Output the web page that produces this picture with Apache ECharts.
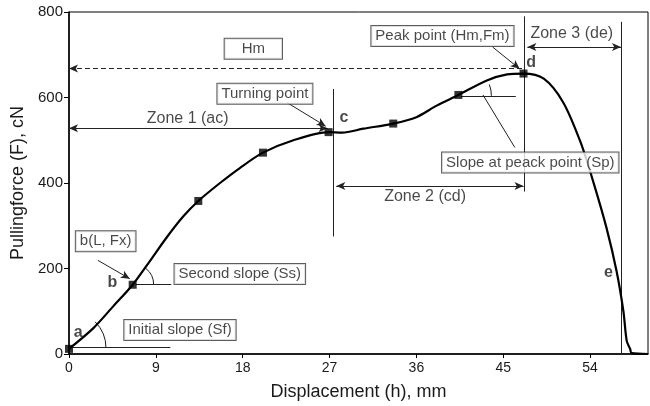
<!DOCTYPE html>
<html>
<head>
<meta charset="utf-8">
<script src="https://cdn.jsdelivr.net/npm/echarts@6/dist/echarts.min.js"></script>
<style>
  html, body { margin: 0; padding: 0; background: #fff; }
  #chart { width: 650px; height: 406px; }
</style>
</head>
<body>
<div id="chart"></div>
<script>
// pulling force curve, displacement (mm) vs force (cN)
const curveX = [0, 2.5, 4.6, 6.6, 8.4, 10.1, 11.85, 13.4, 15.65, 17.7, 20.1, 23.25, 26.9, 28.3, 30.5, 33.6,
  36.0, 38.1, 40.35, 43.3, 45.4, 47.1, 49.2, 51.2, 53.0, 54.3, 55.7, 56.75, 57.45, 57.8, 58.15, 58.3, 60];
const curveF = [12, 60, 112, 162, 218, 272, 322, 358, 400, 435, 471, 500, 519, 518, 527, 539,
  554, 581, 606, 640, 654, 656, 644, 589, 496, 405, 295, 193, 100, 30, 12, 2, 0];

// square markers on the curve
const markX = [0, 6.6, 13.4, 20.1, 26.9, 33.6, 40.35, 47.1];
const markF = [12, 162, 358, 471, 519, 539, 606, 656];

const xTicks = [0, 9, 18, 27, 36, 45, 54];
const yTicks = [0, 200, 400, 600, 800];

// boxed notes: [text, x, F]
const boxNotes = [
  ['Hm', 19.1, 714],
  ['Turning point', 20.3, 609],
  ['Peak point (Hm,Fm)', 38.7, 744],
  ['Slope at peack point (Sp)', 47.8, 448],
  ['b(L, Fx)', 3.8, 264],
  ['Second slope (Ss)', 17.7, 187],
  ['Initial slope (Sf)', 11.5, 56]
];
// plain text: [text, x, F]
const plainNotes = [
  ['Zone 1 (ac)', 12.3, 550],
  ['Zone 2 (cd)', 36.9, 368],
  ['Zone 3 (de)', 52.1, 749]
];
const letterNotes = [
  ['a', 0.95, 49],
  ['b', 4.5, 168],
  ['c', 28.5, 553],
  ['d', 47.9, 681],
  ['e', 55.9, 191]
];

// guide segments: [x1, F1, x2, F2, startArrow, endArrow, dashed]
const guides = [
  [0, 668, 47.0, 668, 1, 0, 1],
  [0, 528, 26.8, 528, 1, 1, 0],
  [27.7, 393, 47.1, 393, 1, 1, 0],
  [47.5, 718, 57.2, 718, 1, 1, 0],
  [27.35, 275, 27.35, 620, 0, 0, 0],
  [47.15, 380, 47.15, 790, 0, 0, 0],
  [57.2, 0, 57.2, 777, 0, 0, 0],
  [0.4, 16, 10.5, 16, 0, 0, 0],
  [6.9, 162, 10.6, 162, 0, 0, 0],
  [40.6, 604, 46.3, 604, 0, 0, 0],
  [22.6, 588, 26.6, 533, 0, 1, 0],
  [43.9, 718, 46.7, 667, 0, 1, 0],
  [3.0, 219, 6.3, 176, 0, 1, 0],
  [42.9, 606, 46.2, 483, 0, 0, 0]
];

// angle arcs: [x, F, radius px, angle deg]
const arcs = [
  [0, 14, 37, 45],
  [6.6, 162, 21, 52],
  [40.35, 604, 33, 20]
];

const chart = echarts.init(document.getElementById('chart'));
const font = 'Liberation Sans, Arial, sans-serif';
const ink = '#1a1a1a';

const guideData = guides.map(g => [
  { coord: [g[0], g[1]], symbol: g[4] ? 'arrow' : 'none',
    lineStyle: { color: '#222', width: 1, type: g[6] ? [5, 3] : 'solid' } },
  { coord: [g[2], g[3]], symbol: g[5] ? 'arrow' : 'none' }
]);

const boxData = boxNotes.map(n => {
  const item = { value: [n[1], n[2]], name: n[0] };
  if (n[0] === 'Hm') item.label = { padding: [3, 17, 2, 17] };
  return item;
});

chart.setOption({
  animation: false,
  backgroundColor: '#fff',
  grid: { left: 69, right: 2, top: 12, bottom: 50, show: true, borderColor: '#000', borderWidth: 1 },
  xAxis: {
    type: 'value', min: 0, max: 60, interval: 9,
    name: 'Displacement (h), mm', nameLocation: 'middle', nameGap: 29,
    nameTextStyle: { fontFamily: font, fontSize: 18, color: ink },
    axisLine: { lineStyle: { color: '#000', width: 1.5 } },
    axisTick: { length: 4, lineStyle: { color: '#000' } },
    axisLabel: { showMaxLabel: false, margin: 7, fontFamily: font, fontSize: 14, color: ink,
      formatter: v => xTicks.includes(v) ? String(v) : '' },
    splitLine: { show: false }
  },
  yAxis: {
    type: 'value', min: 0, max: 800, interval: 200,
    name: 'Pullingforce (F), cN', nameLocation: 'middle', nameGap: 42,
    nameTextStyle: { fontFamily: font, fontSize: 18, color: ink },
    axisLine: { show: true, lineStyle: { color: '#000', width: 1.5 } },
    axisTick: { length: 5, lineStyle: { color: '#000' } },
    axisLabel: { margin: 6, fontFamily: font, fontSize: 15, color: ink,
      formatter: v => yTicks.includes(v) ? String(v) : '' },
    splitLine: { show: false }
  },
  series: [
    {
      type: 'line', data: curveX.map((x, i) => [x, curveF[i]]),
      smooth: 0.3, symbol: 'none',
      lineStyle: { color: '#000', width: 2.2 }, z: 5,
      markLine: { silent: true, symbolSize: [6, 9], label: { show: false }, data: guideData }
    },
    {
      type: 'scatter', data: markX.map((x, i) => [x, markF[i]]),
      symbol: 'rect', symbolSize: 8, itemStyle: { color: '#000' }, z: 6
    },
    {
      type: 'custom', data: arcs, z: 4,
      renderItem: (params, api) => {
        const c = api.coord([api.value(0), api.value(1)]);
        const a = api.value(3) * Math.PI / 180;
        return { type: 'arc', shape: { cx: c[0], cy: c[1], r: api.value(2), startAngle: -a, endAngle: 0 },
          style: { stroke: ink, fill: null, lineWidth: 1 } };
      }
    },
    {
      type: 'scatter', symbolSize: 0, z: 8, data: boxData,
      label: { show: true, position: 'inside', formatter: p => p.name,
        fontFamily: font, fontSize: 15, color: ink, backgroundColor: '#fff',
        borderColor: '#333', borderWidth: 1, padding: [3, 4, 2, 4] }
    },
    {
      type: 'scatter', symbolSize: 0, z: 8,
      data: plainNotes.map(n => ({ value: [n[1], n[2]], name: n[0] })),
      label: { show: true, position: 'inside', formatter: p => p.name,
        fontFamily: font, fontSize: 16, color: ink }
    },
    {
      type: 'scatter', symbolSize: 0, z: 8,
      data: letterNotes.map(n => ({ value: [n[1], n[2]], name: n[0] })),
      label: { show: true, position: 'inside', formatter: p => p.name,
        fontFamily: font, fontSize: 16, fontWeight: 'bold', color: ink }
    }
  ]
});
</script>
</body>
</html>
